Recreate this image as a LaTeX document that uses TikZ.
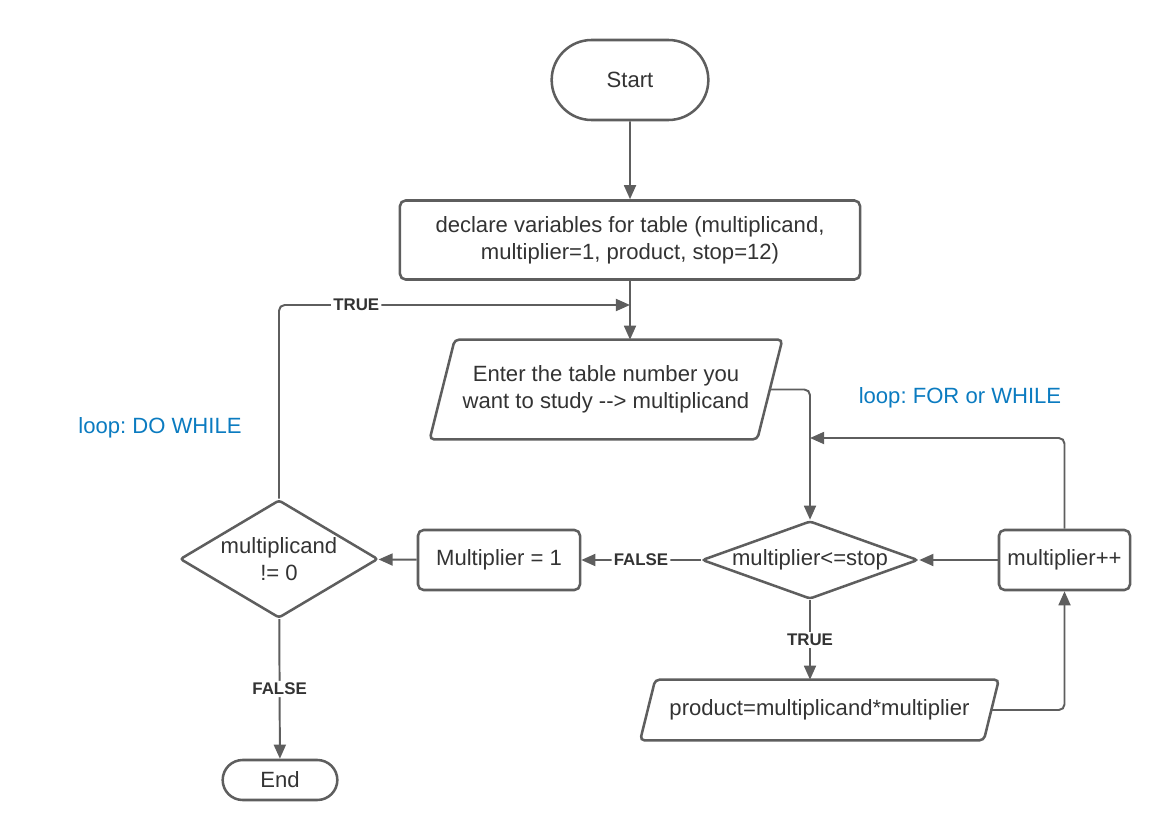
\documentclass[tikz,border=0pt]{standalone}
\usepackage{fontspec}
\setmainfont{Liberation Sans}
\frenchspacing
\usetikzlibrary{shapes.geometric,shapes.misc,arrows.meta,calc}
\definecolor{linegray}{HTML}{5E5E5E}
\definecolor{txtgray}{HTML}{333333}
\definecolor{loopblue}{HTML}{0B7BC0}
\begin{document}
\begin{tikzpicture}[x=0.025cm, y=-0.025cm,
  every node/.style={text=txtgray, font=\fontsize{15.7}{19}\selectfont},
  outline/.style={draw=linegray, line width=1.8pt},
  term/.style={outline, rounded rectangle},
  proc/.style={outline, rectangle, rounded corners=4pt},
  dec/.style={outline, diamond, inner sep=0pt, rounded corners=2pt},
  io/.style={rectangle, align=center},
  flow/.style={draw=linegray, line width=1.4pt, rounded corners=4pt,
    -{Triangle[length=10pt,width=8.5pt]}},
  tag/.style={fill=white, inner sep=1.5pt, font=\bfseries\fontsize{12}{14}\selectfont},
  note/.style={text=loopblue}]
\useasboundingbox (0,0) rectangle (1170,840);

%slanted input/output box round a node
\def\slant#1#2{
\draw[outline, rounded corners=3pt]
  ($(#1.north west)+(#2,0)$) -- ($(#1.north east)+(#2,0)$)
  -- ($(#1.south east)+(-#2,0)$) -- ($(#1.south west)+(-#2,0)$) -- cycle;
}

%main column
\node[term, minimum width=4.15cm, minimum height=2cm] (start) at (630,80) {Start};
\node[proc, minimum width=11.5cm, minimum height=1.975cm, align=center] (decl) at (630,240)
  {declare variables for table (multiplicand,\\multiplier=1, product, stop=12)};
\node[io, minimum width=8.175cm, minimum height=2.475cm] (enter) at (606,389.5)
  {Enter the table number you\\want to study -{}-> multiplicand};
\slant{enter}{12.5}
\coordinate (join) at (630,305);

%FOR loop
\node[dec, aspect=2.77, minimum width=5.4cm, minimum height=1.95cm] (cond) at (810,560) {multiplier<=stop};
\node[proc, minimum width=3.275cm, minimum height=1.5cm] (incr) at (1064.5,560) {multiplier++};
\node[io, minimum width=8.575cm, minimum height=1.5cm] (prod) at (819.5,710) {product=multiplicand*multiplier};
\slant{prod}{7.5}
\coordinate (back) at (810,438);

%DO WHILE loop
\node[proc, minimum width=4.05cm, minimum height=1.5cm] (reset) at (499,560) {Multiplier = 1};
\node[dec, aspect=1.68, minimum width=4.95cm, minimum height=2.95cm, align=center] (again) at (279,559)
  {multiplicand\\!= 0};
\node[term, minimum width=3.1cm, minimum height=1cm] (end) at (280,780) {End};

\node[note] (dowhile) at (160,428) {loop: DO WHILE};
\node[note] (forwhile) at (960,398) {loop: FOR or WHILE};

%connectors
\draw[flow] (start) -- (decl);
\draw[flow] (decl) -- (decl.south |- enter.north);
\draw[flow] (again.north) |- node[tag, pos=0.61] {TRUE} (join);
\draw[flow] (enter.east) -| (cond.north);
\draw[flow] (incr.north) |- (back);
\draw[flow] (incr) -- (cond);
\draw[flow] (cond) -- node[tag] {TRUE} (cond.south |- prod.north);
\draw[flow] (prod.east) -| (incr.south);
\draw[flow] (cond) -- node[tag] {FALSE} (reset);
\draw[flow] (reset) -- (again);
\draw[flow] (again) -- node[tag] {FALSE} (end);
\end{tikzpicture}
\end{document}
